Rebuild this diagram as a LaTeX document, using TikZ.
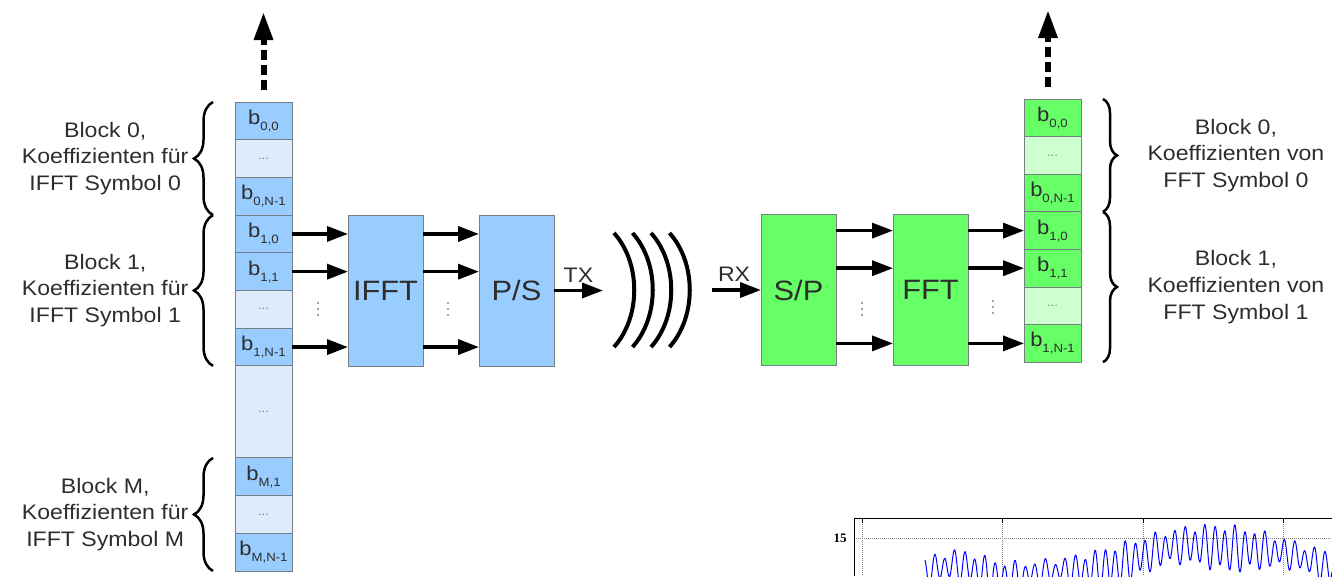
\documentclass[tikz,border=0pt]{standalone}
\usepackage{fontspec}
\setmainfont{Liberation Sans}[FakeStretch=1.1]
\newfontfamily\serif{Liberation Serif}
\usetikzlibrary{positioning,arrows.meta,decorations.pathreplacing}

\definecolor{bleu}{RGB}{153,204,255}
\definecolor{bleuclair}{RGB}{222,236,253}
\definecolor{vert}{RGB}{102,255,102}
\definecolor{vertclair}{RGB}{206,255,206}
\definecolor{bord}{RGB}{118,126,134}
\definecolor{texte}{RGB}{45,45,45}

\newcommand{\bsub}[1]{b\raisebox{-6pt}{\fontsize{12}{12}\selectfont #1}}

\tikzset{
	cell/.style={draw=bord,line width=1pt,outer sep=0pt,inner sep=0pt,minimum width=57pt,minimum height=37.7pt,text=texte,font=\fontsize{20}{20}\selectfont},
	fonce/.style={cell,fill=bleu},
	clair/.style={cell,fill=bleuclair,text=gray,font=\fontsize{12}{12}\selectfont},
	foncev/.style={cell,fill=vert,minimum height=37.6pt},
	clairv/.style={cell,fill=vertclair,text=gray,minimum height=37.6pt,font=\fontsize{12}{12}\selectfont},
	bloc/.style={draw=bord,line width=1pt,outer sep=0pt,minimum width=75pt,minimum height=151pt,text=texte,font=\fontsize{28}{28}\selectfont},
	fl/.style={-{Triangle[length=21pt,width=15pt]},line width=3.5pt},
	pointille/.style={-{Triangle[length=28pt,width=18pt]},line width=6pt,dash pattern=on 10pt off 5pt},
	acc/.style={decorate,decoration={brace,amplitude=#1},line width=2.5pt},
	lab/.style={align=center,text=texte,font=\fontsize{21}{26.7}\selectfont},
}

\begin{document}
\begin{tikzpicture}[x=1pt,y=-1pt]
	\useasboundingbox (0,0) rectangle (1332,576);
	% colonne emission
	\node[fonce] (l00) at (263.5,120.85) {\bsub{0,0}};
	\node[clair,below=0pt of l00] (l0d) {...};
	\node[fonce,below=0pt of l0d] (l0n) {\bsub{0,N-1}};
	\node[fonce,below=0pt of l0n] (l10) {\bsub{1,0}};
	\node[fonce,below=0pt of l10] (l11) {\bsub{1,1}};
	\node[clair,below=0pt of l11] (l1d) {...};
	\node[fonce,below=0pt of l1d] (l1n) {\bsub{1,N-1}};
	\node[clair,below=0pt of l1n,minimum height=92pt] (lgd) {...};
	\node[fonce,below=0pt of lgd] (lM1) {\bsub{M,1}};
	\node[clair,below=0pt of lM1] (lMd) {...};
	\node[fonce,below=0pt of lMd] (lMn) {\bsub{M,N-1}};
	\coordinate (lhaut) at (263.5,12);
	\draw[pointille] ([yshift=12pt]l00.north) -- (lhaut);
	% accolades gauche
	\draw[acc=19pt] ([xshift=-22pt]l0n.south west) -- ([xshift=-22pt]l00.north west);
	\draw[acc=19pt] ([xshift=-22pt]l1n.south west) -- ([xshift=-22pt]l10.north west);
	\draw[acc=19pt] ([xshift=-22pt]lMn.south west) -- ([xshift=-22pt]lM1.north west);
	\node[lab,anchor=east] (t0) at ([xshift=-43pt]l0d.west) {Block 0,\\Koeffizienten für\\IFFT Symbol 0};
	\node[lab,anchor=east] (t1) at ([xshift=-43pt]l11.south west) {Block 1,\\Koeffizienten für\\IFFT Symbol 1};
	\node[lab,anchor=east] (tM) at ([xshift=-43pt]lMd.west) {Block M,\\Koeffizienten für\\IFFT Symbol M};
	% colonne reception
	\node[foncev] (r00) at (1052.5,117.8) {\bsub{0,0}};
	\node[clairv,below=0pt of r00] (r0d) {...};
	\node[foncev,below=0pt of r0d] (r0n) {\bsub{0,N-1}};
	\node[foncev,below=0pt of r0n] (r10) {\bsub{1,0}};
	\node[foncev,below=0pt of r10] (r11) {\bsub{1,1}};
	\node[clairv,below=0pt of r11] (r1d) {...};
	\node[foncev,below=0pt of r1d] (r1n) {\bsub{1,N-1}};
	\coordinate (rhaut) at (1048,10);
	\draw[pointille] ([yshift=12pt]r00.north -| rhaut) -- (rhaut);
	% accolades droite
	\draw[acc=14pt] ([xshift=22pt]r00.north east) -- ([xshift=22pt]r0n.south east);
	\draw[acc=14pt] ([xshift=22pt]r10.north east) -- ([xshift=22pt]r1n.south east);
	\node[lab,anchor=west] (s0) at ([xshift=63pt]r0d.east) {Block 0,\\Koeffizienten von\\FFT Symbol 0};
	\node[lab,anchor=west] (s1) at ([xshift=63pt]r11.south east) {Block 1,\\Koeffizienten von\\FFT Symbol 1};
	% blocs
	\node[bloc,fill=bleu] (ifft) at (385.5,290.5) {IFFT};
	\node[bloc,fill=bleu] (ps) at (516.5,290.5) {P/S};
	\node[bloc,fill=vert] (sp) at (798.5,290) {S/P};
	\node[bloc,fill=vert] (fft) at (930.5,290) {FFT};
	\foreach \r in {10,11,1n}{
		\draw[fl] (l\r.east) -- (ifft.west |- l\r.east);
		\draw[fl] (ifft.east |- l\r.east) -- (ps.west |- l\r.east);
		\draw[fl] (sp.east |- r\r.west) -- (fft.west |- r\r.west);
		\draw[fl] (fft.east |- r\r.west) -- (r\r.west);
	}
	% points
	\foreach \x/\y in {318/309,448/309,862/309,993/307}
		\foreach \d in {-6,0,6}
			\fill[gray] (\x,\y+\d) circle (1.1pt);
	% canal
	\coordinate (tx) at (603,290.5);
	\coordinate (rx) at (712,290);
	\draw[fl] (ps.east) -- (tx) node[midway,above=3pt,lab] (txl) {TX};
	\draw[fl] (rx) -- (sp.west) node[pos=.45,above=3pt,lab] (rxl) {RX};
	\foreach \i in {0,...,3}
		\draw[line width=4pt] ({614+18.5*\i},233) .. controls ({641+18.5*\i},263) and ({641+18.5*\i},317) .. ({614+18.5*\i},347);
	% graphe (morceau)
	\begin{scope}
		\clip (820,505) rectangle (1332,576);
		\draw[gray,densely dotted,line width=1pt] (854,538) -- (1332,538);
		\foreach \x in {862,1002,1143,1283}{
			\draw[gray,densely dotted,line width=1pt] (\x,518) -- (\x,576);
			\draw[line width=.8pt] (\x,518) -- (\x,523);
		}
		\draw[line width=1pt] (854,576) -- (854,518) -- (1332,518);
		\draw[blue,line width=1pt,domain=925:1332,samples=1200] plot (\x,{563-12*exp(-((\x-960)/30)^2)-33*exp(-((\x-1215)/110)^2)+(30+6*sin(3*\x))*(1-cos(36*(\x-925)))/2+3*sin(37*(\x-925))+4*sin(23*(\x-925))});
	\end{scope}
	\node[font=\serif\bfseries\fontsize{13}{13}\selectfont] (q15) at (840,538) {15};
\end{tikzpicture}
\end{document}
